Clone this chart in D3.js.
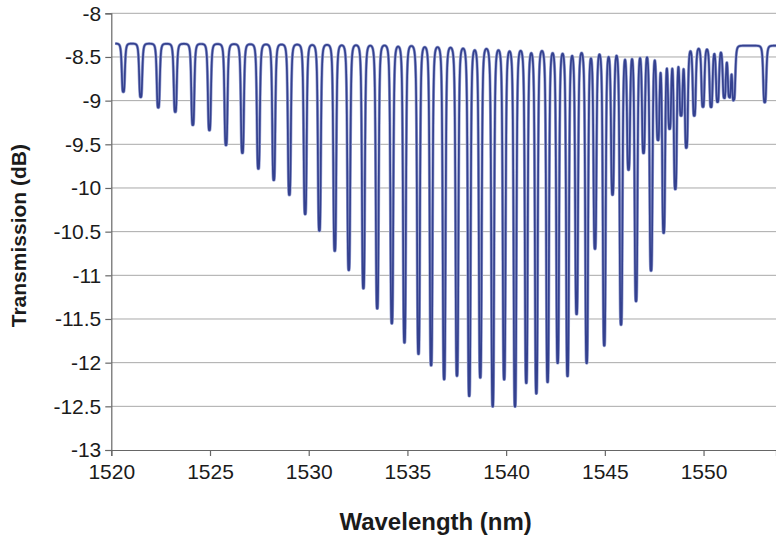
<!DOCTYPE html>
<html>
<head>
<meta charset="utf-8">
<script src="https://cdn.jsdelivr.net/npm/d3@7"></script>
<style>
  html, body { margin: 0; padding: 0; background: #fff; }
  svg { display: block; font-family: "Liberation Sans", Arial, sans-serif; }
  .grid line { stroke: #a9a9a9; stroke-width: 1; }
  .axis path, .axis line { stroke: #666; stroke-width: 1.2; }
  .axis text { fill: #1b1b1b; font-size: 21px; }
</style>
</head>
<body>
<svg id="chart" width="776" height="536"></svg>
<script>
// Achsen
const xTicks = [1520, 1525, 1530, 1535, 1540, 1545, 1550];
const yTicks = [-13, -12.5, -12, -11.5, -11, -10.5, -10, -9.5, -9, -8.5, -8];

// Lage der Einbrueche (nm) und ihr Minimum (dB)
const dipNm = [
    1520.61, 1521.49, 1522.38, 1523.24, 1524.13, 1524.97, 1525.81, 1526.64,
    1527.45, 1528.23, 1529.02, 1529.82, 1530.54, 1531.32, 1532.03, 1532.77,
    1533.47, 1534.21, 1534.85, 1535.56, 1536.20, 1536.86, 1537.51, 1538.13,
    1538.69, 1539.32, 1539.90, 1540.45, 1541.02, 1541.53, 1542.10, 1542.61,
    1543.11, 1543.57, 1544.08, 1544.50, 1544.97, 1545.39, 1545.82, 1546.20,
    1546.58, 1546.96, 1547.34, 1547.69, 1547.98, 1548.28, 1548.57, 1548.86,
    1549.13, 1549.53, 1549.97, 1550.38, 1550.71, 1551.05, 1551.31, 1551.53,
    1553.10
];
const dipDb = [
    -8.90, -8.96, -9.08, -9.13, -9.28, -9.34, -9.51, -9.60,
    -9.78, -9.91, -10.08, -10.30, -10.49, -10.72, -10.94, -11.15,
    -11.38, -11.55, -11.77, -11.90, -12.03, -12.19, -12.15, -12.38,
    -12.17, -12.50, -12.19, -12.50, -12.23, -12.35, -12.22, -12.00,
    -12.15, -11.44, -12.00, -10.69, -11.80, -10.07, -11.56, -9.78,
    -11.29, -9.59, -10.94, -9.43, -10.50, -9.30, -10.00, -9.15,
    -9.53, -9.17, -9.07, -9.07, -9.01, -8.96, -8.94, -8.98,
    -9.02
];

// Grundlinie ausserhalb der Einbrueche
const baseNm = [1520.2, 1535, 1540, 1545, 1547.5, 1553.7];
const baseDb = [-8.345, -8.355, -8.38, -8.39, -8.37, -8.37];

const spanNm = [1520.2, 1553.7];
const dipWidth = 0.088; // halbe Breite (nm)

const svg = d3.select('#chart');
const margin = { top: 13.3, right: 0, bottom: 86, left: 111.3 };
const width = 776 - margin.left - margin.right;
const height = 536 - margin.top - margin.bottom;

const xScale = d3.scaleLinear().domain([1520, 1553.67]).range([0, width]);
const yScale = d3.scaleLinear().domain([-13, -8]).range([height, 0]);
const baseScale = d3.scaleLinear().domain(baseNm).range(baseDb);

const g = svg.append('g')
    .attr('transform', `translate(${margin.left},${margin.top})`);

// Gitterlinien
g.append('g')
    .attr('class', 'grid')
    .selectAll('line')
    .data(yTicks.filter(d => d > -13))
    .enter()
    .append('line')
    .attr('x1', 0)
    .attr('x2', width)
    .attr('y1', d => yScale(d))
    .attr('y2', d => yScale(d));

// Spektrum aus den Einbruechen aufbauen
const dips = dipNm.map((c, i) => ({
    c: c,
    a: 1 - Math.pow(10, (dipDb[i] - baseScale(c)) / 10)
}));
const xs = d3.range(spanNm[0], spanNm[1], 0.004).concat(dipNm).sort(d3.ascending);
const spectrum = xs.map(x => {
    let t = 1;
    dips.forEach(d => {
        const u = (x - d.c) / dipWidth;
        t *= 1 - d.a / (1 + u * u * u * u);
    });
    return { nm: x, db: baseScale(x) + 10 * Math.log10(t) };
});

const line = d3.line()
    .x(d => xScale(d.nm))
    .y(d => yScale(d.db));

g.append('path')
    .datum(spectrum)
    .attr('fill', 'none')
    .attr('stroke', '#9aa3d2')
    .attr('stroke-width', 3)
    .attr('stroke-linejoin', 'round')
    .attr('d', line);

g.append('path')
    .datum(spectrum)
    .attr('fill', 'none')
    .attr('stroke', '#34418f')
    .attr('stroke-width', 1.7)
    .attr('stroke-linejoin', 'round')
    .attr('d', line);

// Achsen
g.append('g')
    .attr('class', 'axis x-axis')
    .attr('transform', `translate(0,${height})`)
    .call(d3.axisBottom(xScale).tickValues(xTicks).tickSize(6).tickPadding(8).tickFormat(d3.format('d')));

g.append('g')
    .attr('class', 'axis y-axis')
    .call(d3.axisLeft(yScale).tickValues(yTicks).tickSize(6).tickPadding(4).tickFormat(d => String(d)));

// Achsentitel
g.append('text')
    .attr('x', width / 2 - 8)
    .attr('y', height + 80)
    .attr('text-anchor', 'middle')
    .style('font-size', '24px')
    .style('font-weight', 'bold')
    .style('fill', '#1b1b1b')
    .text('Wavelength (nm)');

g.append('text')
    .attr('transform', `translate(${-85},${height / 2 + 4}) rotate(-90)`)
    .attr('text-anchor', 'middle')
    .style('font-size', '21px')
    .style('font-weight', 'bold')
    .style('fill', '#1b1b1b')
    .text('Transmission (dB)');
</script>
</body>
</html>
